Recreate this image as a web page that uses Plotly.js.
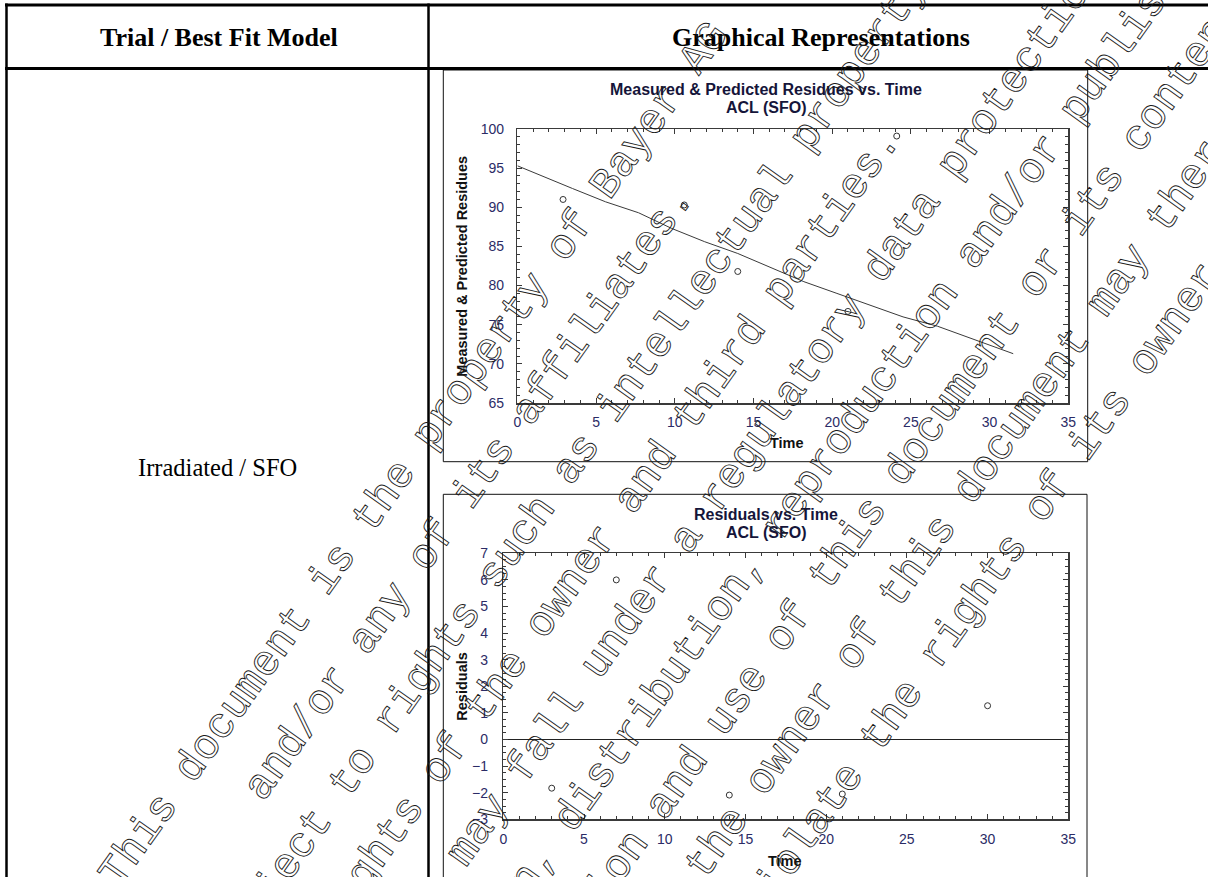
<!DOCTYPE html>
<html>
<head>
<meta charset="utf-8">
<script src="https://cdn.plot.ly/plotly-3.0.1.min.js"></script>
<style>
  html, body { margin: 0; padding: 0; background: #fff; }
  #page { position: relative; width: 1208px; height: 877px; overflow: hidden; }
  #chart, #wm { position: absolute; left: 0; top: 0; width: 1208px; height: 877px; }
  #wm { pointer-events: none; }
  /* hollow, outlined lettering for the notice */
  #wm .annotation-text { fill: none !important; stroke: #1b1b1b; stroke-width: 0.9px; }
</style>
</head>
<body>
<div id="page">
  <div id="chart"></div>
  <div id="wm"></div>
</div>
<script>
// ---- ACL (SFO), irradiated trial ----
const measuredTime = [2.9, 10.6, 14, 21, 24.1];
const measuredResidue = [91.0, 90.3, 81.8, 76.7, 99.1];

const predictedTime = [0, 1.3, 3.5, 5.6, 7.7, 9.8, 11.9, 14.0, 16.2, 18.2, 20.3, 22.4, 24.5, 26.7, 28.8, 31.5];
const predictedResidue = [95.3, 94.2, 92.4, 90.7, 89.3, 87.3, 85.6, 84.1, 82.2, 80.5, 79.0, 77.5, 76.0, 74.8, 73.3, 71.3];

const residualTime = [3, 7, 14, 21, 30];
const residualValue = [-1.83, 6.0, -2.09, -2.05, 1.27];

const tableHeaders = ['Trial / Best Fit Model', 'Graphical Representations'];
const trialLabel = 'Irradiated / SFO';
const chartTitles = ['Measured & Predicted Residues vs. Time', 'Residuals vs. Time'];
const modelLabel = 'ACL (SFO)';

const noticeLines = [
  'This document is the property of Bayer AG',
  'and/or any of its affiliates.',
  'It may be subject to rights such as intellectual property and',
  'copyrights of the owner and third parties.',
  'Furthermore, this document may fall under a regulatory data protection regime.',
  'Consequently, any publication, distribution, reproduction and/or publishing and',
  'any commercial exploitation and use of this document or its contents',
  'without the permission of the owner of this document may therefore',
  'be prohibited and violate the rights of its owner.'
];

// ---- page geometry (pixels) ----
const W = 1208, H = 877;
const fx = p => p / W;
const fy = p => 1 - p / H;

const SANS = 'Liberation Sans, Arial, sans-serif';
const SERIF = 'Liberation Serif, Times New Roman, serif';
const MONO = 'Liberation Mono, Courier New, monospace';
const TICK_BLUE = '#2b2b66';
const AXIS = '#3a3a3a';

function mainAxis(domain, range, dtick, minorDtick, opts) {
  return Object.assign({
    domain: domain, range: range, autorange: false,
    tickmode: 'linear', tick0: range[0], dtick: dtick,
    ticks: 'inside', ticklen: 5, tickwidth: 1, tickcolor: AXIS,
    minor: { dtick: minorDtick, ticks: 'inside', ticklen: 3, tickwidth: 1, tickcolor: AXIS, showgrid: false },
    mirror: 'ticks', showline: true, linecolor: AXIS, linewidth: 1.5,
    showgrid: false, zeroline: false,
    tickfont: { family: SANS, size: 14, color: TICK_BLUE }
  }, opts || {});
}
// second copy of an axis carrying the outward half of the crossing ticks
function crossAxis(base, over, anchor) {
  return {
    overlaying: over, anchor: anchor, domain: base.domain, range: base.range, autorange: false,
    tickmode: 'linear', tick0: base.range[0], dtick: base.dtick,
    ticks: 'outside', ticklen: 5, tickwidth: 1, tickcolor: AXIS,
    minor: { dtick: base.minor.dtick, ticks: 'outside', ticklen: 3, tickwidth: 1, tickcolor: AXIS, showgrid: false },
    showticklabels: false, showline: false, showgrid: false, zeroline: false
  };
}

// chart 1: measured & predicted
const x1 = mainAxis([fx(517.4), fx(1068.3)], [0, 35], 5, 1, { anchor: 'y', ticklabelstandoff: 6 });
const y1 = mainAxis([fy(403), fy(129)], [65, 100], 5, 1, { anchor: 'x', ticklabelstandoff: 9 });
// chart 2: residuals
const x2 = mainAxis([fx(503.3), fx(1068.3)], [0, 35], 5, 1, { anchor: 'y2', ticklabelstandoff: 6 });
const y2 = mainAxis([fy(819.3), fy(553.3)], [-3, 7], 1, 0.25, {
  anchor: 'x2', ticklabelstandoff: 11,
  zeroline: true, zerolinecolor: '#222', zerolinewidth: 1.5
});

const traces = [
  {
    x: predictedTime, y: predictedResidue, xaxis: 'x', yaxis: 'y',
    type: 'scatter', mode: 'lines', line: { color: '#3a3a3a', width: 1 },
    hoverinfo: 'skip', showlegend: false
  },
  {
    x: measuredTime, y: measuredResidue, xaxis: 'x', yaxis: 'y',
    type: 'scatter', mode: 'markers',
    marker: { symbol: 'circle-open', size: 6, color: '#333', line: { width: 1, color: '#333' } },
    showlegend: false
  },
  {
    x: residualTime, y: residualValue, xaxis: 'x2', yaxis: 'y2',
    type: 'scatter', mode: 'markers',
    marker: { symbol: 'circle-open', size: 6, color: '#333', line: { width: 1, color: '#333' } },
    showlegend: false
  }
];

function label(text, x, y, font, extra) {
  return Object.assign({
    text: text, xref: 'paper', yref: 'paper', x: fx(x), y: fy(y),
    xanchor: 'center', yanchor: 'middle', showarrow: false, font: font
  }, extra || {});
}
const titleFont = { family: SANS, size: 16, color: '#15153a', weight: 'bold' };
const axisTitleFont = { family: SANS, size: 14.5, color: '#111', weight: 'bold' };

const annotations = [
  label(tableHeaders[0], 219, 38, { family: SERIF, size: 26, color: '#000', weight: 'bold' }),
  label(tableHeaders[1], 821, 38, { family: SERIF, size: 26, color: '#000', weight: 'bold' }),
  label(trialLabel, 217.5, 467, { family: SERIF, size: 24.5, color: '#000' }),

  label(chartTitles[0], 766, 89.5, titleFont),
  label(modelLabel, 766, 107.5, titleFont),
  label('Measured & Predicted Residues', 461.7, 266, axisTitleFont, { textangle: -90 }),
  label('Time', 787, 443, axisTitleFont),

  label(chartTitles[1], 766, 514, titleFont),
  label(modelLabel, 766, 532.5, titleFont),
  label('Residuals', 461.7, 686, axisTitleFont, { textangle: -90 }),
  label('Time', 785, 860.5, axisTitleFont)
];

// table rules and the two framed chart panels
function hline(y, x0, x1, w) {
  return { type: 'line', xref: 'paper', yref: 'paper', x0: fx(x0), x1: fx(x1), y0: fy(y), y1: fy(y), line: { color: '#000', width: w } };
}
function vline(x, y0, y1, w) {
  return { type: 'line', xref: 'paper', yref: 'paper', x0: fx(x), x1: fx(x), y0: fy(y0), y1: fy(y1), line: { color: '#000', width: w } };
}
function frame(x0, y0, x1, y1) {
  return { type: 'rect', xref: 'paper', yref: 'paper', x0: fx(x0), x1: fx(x1), y0: fy(y0), y1: fy(y1), line: { color: '#111', width: 1 }, fillcolor: 'rgba(0,0,0,0)' };
}
const shapes = [
  frame(443.3, 70, 1087.7, 461.7),
  frame(443.3, 494.3, 1087, 900),
  hline(5, 5, W + 2, 3),
  hline(68.5, 5, W + 2, 3),
  vline(6.5, 3.5, H + 2, 2.5),
  vline(428.5, 3.5, H + 2, 2.5)
];

const layout = {
  width: W, height: H,
  margin: { l: 0, r: 0, t: 0, b: 0, pad: 0 },
  paper_bgcolor: '#fff', plot_bgcolor: '#fff',
  showlegend: false,
  xaxis: x1, yaxis: y1,
  xaxis2: x2, yaxis2: y2,
  xaxis3: crossAxis(x1, 'x', 'y'),
  yaxis3: crossAxis(y1, 'y', 'x'),
  xaxis4: crossAxis(x2, 'x2', 'y2'),
  yaxis4: crossAxis(y2, 'y2', 'x2'),
  annotations: annotations,
  shapes: shapes
};

Plotly.newPlot('chart', traces, layout, { staticPlot: true, displayModeBar: false });

// ---- diagonal ownership notice, centred lines stacked across the page ----
const ANGLE = 54.5 * Math.PI / 180;
const along = [Math.cos(ANGLE), -Math.sin(ANGLE)];   // reading direction
const across = [Math.sin(ANGLE), Math.cos(ANGLE)];   // next line direction
const ALONG_OFFSET = -129, FIRST_LINE = 601, LINE_STEP = 67.6;

const noticeAnnotations = noticeLines.map((txt, i) => {
  const t = FIRST_LINE + LINE_STEP * i;
  const cx = ALONG_OFFSET * along[0] + t * across[0];
  const cy = ALONG_OFFSET * along[1] + t * across[1];
  return {
    text: txt, xref: 'paper', yref: 'paper', x: fx(cx), y: fy(cy),
    xanchor: 'center', yanchor: 'middle', showarrow: false,
    textangle: -54.5,
    font: { family: MONO, size: 42.67, color: '#000' }
  };
});

Plotly.newPlot('wm', [], {
  width: W, height: H,
  margin: { l: 0, r: 0, t: 0, b: 0, pad: 0 },
  paper_bgcolor: 'rgba(0,0,0,0)', plot_bgcolor: 'rgba(0,0,0,0)',
  xaxis: { visible: false }, yaxis: { visible: false },
  annotations: noticeAnnotations
}, { staticPlot: true, displayModeBar: false });
</script>
</body>
</html>
